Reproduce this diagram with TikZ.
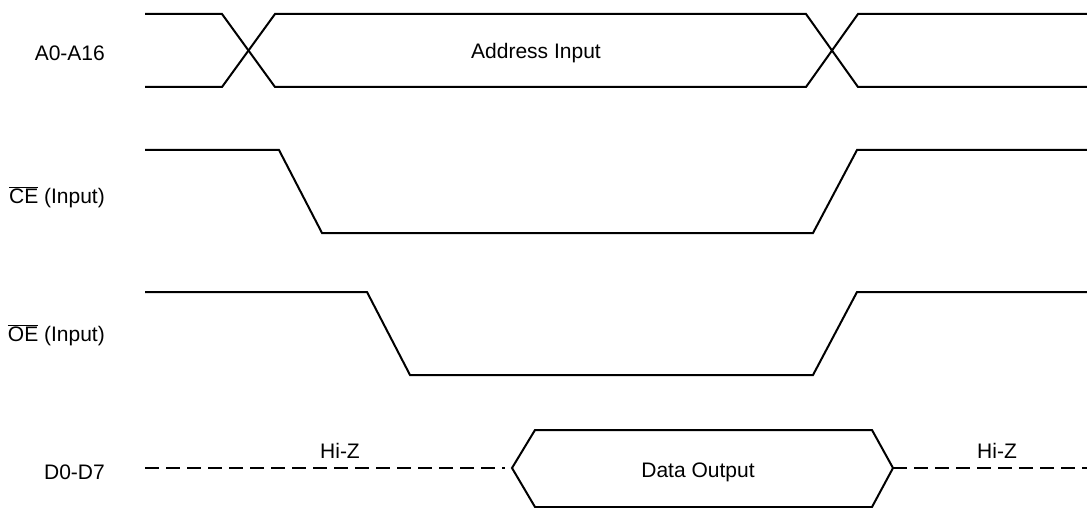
\documentclass[tikz,border=0pt]{standalone}
\usepackage{fontspec}
\setmainfont{Liberation Sans}
\usetikzlibrary{positioning}

\begin{document}
\begin{tikzpicture}[
  x=1pt, y=-1pt,
  wave/.style={line width=2pt, line join=miter},
  hiz/.style={wave, dash pattern=on 14pt off 7pt},
  sig/.style={anchor=east, inner sep=0pt, font=\fontsize{21}{25}\selectfont},
  lbl/.style={inner sep=0pt, font=\fontsize{21}{25}\selectfont}
]
\useasboundingbox (0,0) rectangle (1087,508);
% signal names
\node[sig] (addr) at (105,53) {A0-A16};
\node[sig] (ce) at (105,197) {$\overline{\mbox{CE}}$ (Input)};
\node[sig] (oe) at (105,335) {$\overline{\mbox{OE}}$ (Input)};
\node[sig] (data) at (105,472) {D0-D7};
% address bus
\draw[wave] (145,14) -- (222,14) -- (275,87) -- (806,87) -- (858,14) -- (1087,14);
\draw[wave] (145,87) -- (222,87) -- (275,14) -- (806,14) -- (858,87) -- (1087,87);
\node[lbl] (addrin) at (536,53) {Address Input};
% chip enable / output enable
\draw[wave] (145,150) -- (279,150) -- (322,233) -- (813,233) -- (857,150) -- (1087,150);
\draw[wave] (145,292) -- (367,292) -- (410,375) -- (813,375) -- (857,292) -- (1087,292);
% data bus
\draw[hiz] (145,468) -- (505,468);
\draw[wave] (512,468) -- (535,430) -- (872,430) -- (893,468) -- (872,507) -- (535,507) -- cycle;
\draw[hiz] (893,468) -- (1087,468);
\node[lbl] (dout) at (698,472) {Data Output};
\node[lbl] (hizl) at (340,451) {Hi-Z};
\node[lbl] (hizr) at (997,451) {Hi-Z};
\end{tikzpicture}
\end{document}
